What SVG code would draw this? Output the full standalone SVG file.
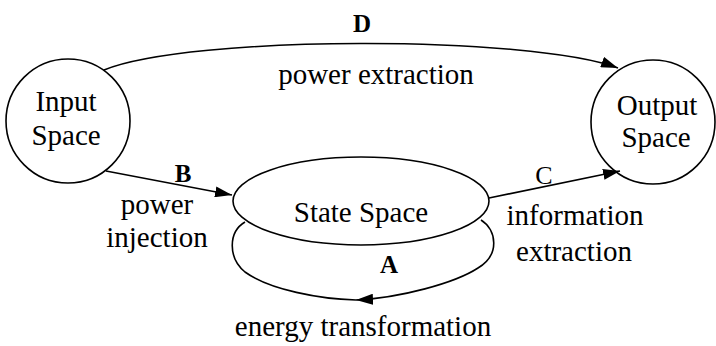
<svg xmlns="http://www.w3.org/2000/svg" width="716" height="346" viewBox="0 0 716 346">
<style>
  .shape { fill: none; stroke: #000; stroke-width: 1.6; }
  .edge { fill: none; stroke: #000; stroke-width: 1.6; }
  text { font-family: "Liberation Serif", "Times New Roman", serif; fill: #000; text-anchor: middle; }
  .t { font-size: 29px; }
  .lbl { font-size: 25px; font-weight: bold; }
  .lbln { font-size: 26px; }
</style>
<defs>
  <marker id="arrow" viewBox="0 0 17 11" refX="17" refY="5.5" markerWidth="17" markerHeight="11" markerUnits="userSpaceOnUse" orient="auto">
    <path d="M0,0 L17,5.5 L0,11 z" fill="#000"/>
  </marker>
</defs>
<rect width="716" height="346" fill="#fff"/>
<g id="input-space">
  <circle class="shape" cx="68" cy="121" r="62"/>
  <text class="t" x="66" y="111">Input</text>
  <text class="t" x="66" y="145">Space</text>
</g>
<g id="output-space">
  <circle class="shape" cx="653" cy="122" r="62"/>
  <text class="t" x="657" y="115">Output</text>
  <text class="t" x="656" y="147">Space</text>
</g>
<g id="state-space">
  <ellipse class="shape" cx="361" cy="201" rx="128" ry="44"/>
  <text class="t" x="361" y="222">State Space</text>
</g>
<g id="connectors">
  <path class="edge" d="M104,70 C190,35 530,35 618,68" marker-end="url(#arrow)"/>
  <path class="edge" d="M106,171 L232,195" marker-end="url(#arrow)"/>
  <path class="edge" d="M489,198 L620,171" marker-end="url(#arrow)"/>
  <path class="edge" d="M481,220 C497,230 500,255 478,268 C455,283 400,298 356,300" marker-end="url(#arrow)"/>
  <path class="edge" d="M356,300 C320,299 270,290 245,272 C228,258 228,232 245,222"/>
</g>
<g id="labels">
  <text class="lbl" x="362" y="32">D</text>
  <text class="t" x="376" y="84">power extraction</text>
  <text class="lbl" x="183" y="182">B</text>
  <text class="t" x="157" y="214">power</text>
  <text class="t" x="157" y="247">injection</text>
  <text class="lbln" x="544" y="184">C</text>
  <text class="t" x="575" y="225">information</text>
  <text class="t" x="574" y="261">extraction</text>
  <text class="lbl" x="389" y="273">A</text>
  <text class="t" x="363" y="336">energy transformation</text>
</g>
</svg>
